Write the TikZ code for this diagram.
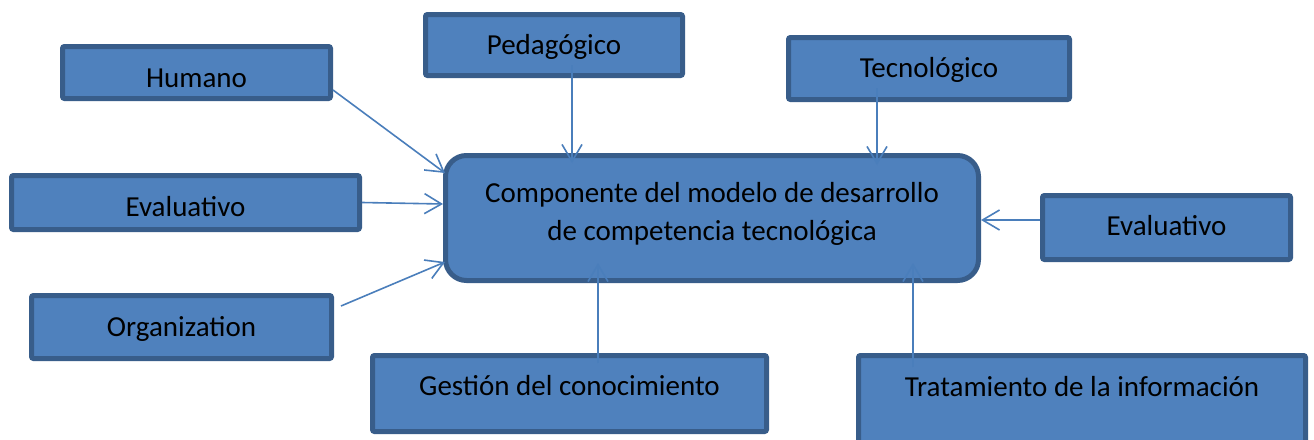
\documentclass[tikz,border=0pt]{standalone}
\usepackage{fontspec}
\setmainfont{Carlito}
\usetikzlibrary{arrows.meta}
\definecolor{boxfill}{HTML}{4F81BD}
\definecolor{boxline}{HTML}{385D8A}
\definecolor{arrowc}{HTML}{4A7EBB}
\tikzset{
  box/.style={draw=boxline, fill=boxfill, line width=5pt, rounded corners=2pt, inner sep=0pt},
  bigbox/.style={box, rounded corners=21pt},
  txt/.style={inner sep=0pt, anchor=base, font=\fontsize{29}{38}\selectfont, text=black},
  conn/.style={draw=arrowc, line width=1.6pt, -{Straight Barb[length=17pt,width=20pt]}}
}
\begin{document}
\begin{tikzpicture}[x=1pt,y=-1pt]
\clip (0,0) rectangle (1314,439);
\fill[white] (0,0) rectangle (1314,439);
% boxes
\node[box, minimum width=268pt, minimum height=52pt] (hum) at (196.5,72.5) {};
\node[box, minimum width=257pt, minimum height=61pt] (ped) at (554,45) {};
\node[box, minimum width=281pt, minimum height=62pt] (tec) at (929,68.5) {};
\node[box, minimum width=348pt, minimum height=54pt] (evl) at (185.5,202.5) {};
\node[box, minimum width=300pt, minimum height=63pt] (org) at (181.5,327) {};
\node[bigbox, minimum width=533pt, minimum height=125pt] (cen) at (712,218) {};
\node[box, minimum width=248pt, minimum height=64pt] (evr) at (1166.5,227.5) {};
\node[box, minimum width=394pt, minimum height=76pt] (ges) at (569.5,393.5) {};
\node[box, minimum width=447pt, minimum height=102pt] (tra) at (1082,406.5) {};
% texts
\node[txt] (humT) at (196.5,87) {Humano};
\node[txt] (pedT) at (554,54) {Pedagógico};
\node[txt] (tecT) at (929,77) {Tecnológico};
\node[txt] (evlT) at (185.5,216) {Evaluativo};
\node[txt] (orgT) at (181.5,336) {Organization};
\node[txt] (evrT) at (1166.5,235) {Evaluativo};
\node[txt] (gesT) at (569.5,395) {Gestión del conocimiento};
\node[txt] (traT) at (1082,396) {Tratamiento de la información};
\node[txt, align=center] (cenT) at (712,240) {Componente del modelo de desarrollo\\de competencia tecnológica};
% connectors
\draw[conn] ([yshift=-17.5pt]hum.east) -- ([shift={(2pt,45pt)}]cen.west);
\draw[conn] (evl.east) -- ([yshift=14pt]cen.west);
\draw[conn] ([shift={(7pt,21pt)}]org.east) -- ([shift={(2pt,-44pt)}]cen.west);
\draw[conn] ([shift={(18pt,-20pt)}]ped.center) -- ([shift={(-140pt,-10pt)}]cen.north);
\draw[conn] ([shift={(-52pt,-19.5pt)}]tec.center) -- ([shift={(165pt,-12pt)}]cen.north);
\draw[conn] ([yshift=7.5pt]evr.west) -- ([yshift=-2pt]cen.east);
\draw[conn] ([shift={(28.5pt,-10pt)}]ges.north) -- ([shift={(-114pt,20pt)}]cen.south);
\draw[conn] ([shift={(-169pt,-14pt)}]tra.north) -- ([shift={(201pt,20pt)}]cen.south);
\end{tikzpicture}
\end{document}
